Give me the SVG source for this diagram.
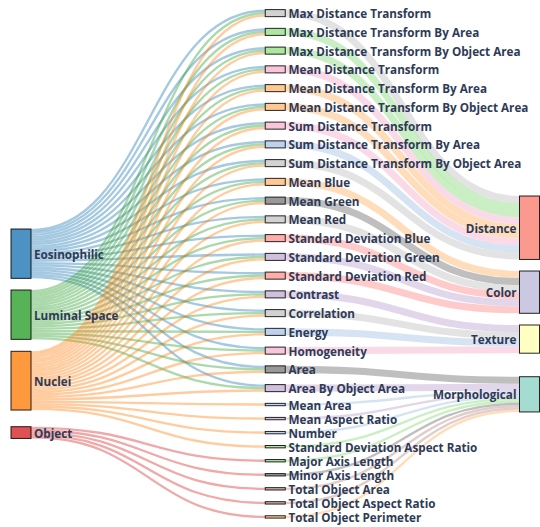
<svg xmlns="http://www.w3.org/2000/svg" width="540" height="527" viewBox="0 0 540 527">
<style>
text{font-family:"Open Sans","Noto Sans","DejaVu Sans",sans-serif;font-weight:bold;font-size:11.7px;fill:#2e3a56;dominant-baseline:central}
.r text,.rt{text-anchor:end}
rect{stroke:#000;stroke-width:1;stroke-opacity:.85;fill-opacity:.8}
#links path{fill:none}
.le path{stroke:#1f77b4;stroke-opacity:.4;stroke-width:2.35}
.ll path{stroke:#2ca02c;stroke-opacity:.4;stroke-width:2.35}
.ln path{stroke:#ff7f0e;stroke-opacity:.4;stroke-width:2.35}
.lo path{stroke:#d62728;stroke-opacity:.4;stroke-width:2.35}
.rl path{stroke-opacity:.5;stroke-width:7.05}
.rl path.t{stroke-width:2.35}
.c1{stroke:#c7c7c7;fill:#c7c7c7}.c2{stroke:#98df8a;fill:#98df8a}.c3{stroke:#f7b6d2;fill:#f7b6d2}.c4{stroke:#ffbb78;fill:#ffbb78}
.c5{stroke:#aec7e8;fill:#aec7e8}.c6{stroke:#7f7f7f;fill:#7f7f7f}.c7{stroke:#ff9896;fill:#ff9896}.c8{stroke:#c5b0d5;fill:#c5b0d5}.c9{stroke:#c49c94;fill:#c49c94}
rect.c1,rect.c2,rect.c3,rect.c4,rect.c5,rect.c6,rect.c7,rect.c8,rect.c9{stroke:#000}
</style>
<g id="links">
<g class="le">
<path d="M31,230.175C148.125,230.175 148.125,10.775 265.25,10.775"/>
<path d="M31,232.525C148.125,232.525 148.125,29.525 265.25,29.525"/>
<path d="M31,234.875C148.125,234.875 148.125,48.275 265.25,48.275"/>
<path d="M31,237.225C148.125,237.225 148.125,67.025 265.25,67.025"/>
<path d="M31,239.575C148.125,239.575 148.125,85.775 265.25,85.775"/>
<path d="M31,241.925C148.125,241.925 148.125,104.525 265.25,104.525"/>
<path d="M31,244.275C148.125,244.275 148.125,123.275 265.25,123.275"/>
<path d="M31,246.625C148.125,246.625 148.125,142.025 265.25,142.025"/>
<path d="M31,248.975C148.125,248.975 148.125,160.775 265.25,160.775"/>
<path d="M31,251.325C148.125,251.325 148.125,179.525 265.25,179.525"/>
<path d="M31,253.675C148.125,253.675 148.125,198.275 265.25,198.275"/>
<path d="M31,256.025C148.125,256.025 148.125,217.025 265.25,217.025"/>
<path d="M31,258.375C148.125,258.375 148.125,235.775 265.25,235.775"/>
<path d="M31,260.725C148.125,260.725 148.125,254.525 265.25,254.525"/>
<path d="M31,263.075C148.125,263.075 148.125,273.275 265.25,273.275"/>
<path d="M31,265.425C148.125,265.425 148.125,292.025 265.25,292.025"/>
<path d="M31,267.775C148.125,267.775 148.125,310.775 265.25,310.775"/>
<path d="M31,270.125C148.125,270.125 148.125,329.525 265.25,329.525"/>
<path d="M31,272.475C148.125,272.475 148.125,348.275 265.25,348.275"/>
<path d="M31,274.825C148.125,274.825 148.125,367.025 265.25,367.025"/>
<path d="M31,277.175C148.125,277.175 148.125,385.775 265.25,385.775"/>
</g>
<g class="ll">
<path d="M31,291.175C148.125,291.175 148.125,13.125 265.25,13.125"/>
<path d="M31,293.525C148.125,293.525 148.125,31.875 265.25,31.875"/>
<path d="M31,295.875C148.125,295.875 148.125,50.625 265.25,50.625"/>
<path d="M31,298.225C148.125,298.225 148.125,69.375 265.25,69.375"/>
<path d="M31,300.575C148.125,300.575 148.125,88.125 265.25,88.125"/>
<path d="M31,302.925C148.125,302.925 148.125,106.875 265.25,106.875"/>
<path d="M31,305.275C148.125,305.275 148.125,125.625 265.25,125.625"/>
<path d="M31,307.625C148.125,307.625 148.125,144.375 265.25,144.375"/>
<path d="M31,309.975C148.125,309.975 148.125,163.125 265.25,163.125"/>
<path d="M31,312.325C148.125,312.325 148.125,181.875 265.25,181.875"/>
<path d="M31,314.675C148.125,314.675 148.125,200.625 265.25,200.625"/>
<path d="M31,317.025C148.125,317.025 148.125,219.375 265.25,219.375"/>
<path d="M31,319.375C148.125,319.375 148.125,238.125 265.25,238.125"/>
<path d="M31,321.725C148.125,321.725 148.125,256.875 265.25,256.875"/>
<path d="M31,324.075C148.125,324.075 148.125,275.625 265.25,275.625"/>
<path d="M31,326.425C148.125,326.425 148.125,294.375 265.25,294.375"/>
<path d="M31,328.775C148.125,328.775 148.125,313.125 265.25,313.125"/>
<path d="M31,331.125C148.125,331.125 148.125,331.875 265.25,331.875"/>
<path d="M31,333.475C148.125,333.475 148.125,350.625 265.25,350.625"/>
<path d="M31,335.825C148.125,335.825 148.125,369.375 265.25,369.375"/>
<path d="M31,338.175C148.125,338.175 148.125,388.125 265.25,388.125"/>
</g>
<g class="ln">
<path d="M31,352.475C148.125,352.475 148.125,15.475 265.25,15.475"/>
<path d="M31,354.825C148.125,354.825 148.125,34.225 265.25,34.225"/>
<path d="M31,357.175C148.125,357.175 148.125,52.975 265.25,52.975"/>
<path d="M31,359.525C148.125,359.525 148.125,71.725 265.25,71.725"/>
<path d="M31,361.875C148.125,361.875 148.125,90.475 265.25,90.475"/>
<path d="M31,364.225C148.125,364.225 148.125,109.225 265.25,109.225"/>
<path d="M31,366.575C148.125,366.575 148.125,127.975 265.25,127.975"/>
<path d="M31,368.925C148.125,368.925 148.125,146.725 265.25,146.725"/>
<path d="M31,371.275C148.125,371.275 148.125,165.475 265.25,165.475"/>
<path d="M31,373.625C148.125,373.625 148.125,184.225 265.25,184.225"/>
<path d="M31,375.975C148.125,375.975 148.125,202.975 265.25,202.975"/>
<path d="M31,378.325C148.125,378.325 148.125,221.725 265.25,221.725"/>
<path d="M31,380.675C148.125,380.675 148.125,240.475 265.25,240.475"/>
<path d="M31,383.025C148.125,383.025 148.125,259.225 265.25,259.225"/>
<path d="M31,385.375C148.125,385.375 148.125,277.975 265.25,277.975"/>
<path d="M31,387.725C148.125,387.725 148.125,296.725 265.25,296.725"/>
<path d="M31,390.075C148.125,390.075 148.125,315.475 265.25,315.475"/>
<path d="M31,392.425C148.125,392.425 148.125,334.225 265.25,334.225"/>
<path d="M31,394.775C148.125,394.775 148.125,352.975 265.25,352.975"/>
<path d="M31,397.125C148.125,397.125 148.125,371.725 265.25,371.725"/>
<path d="M31,399.475C148.125,399.475 148.125,390.475 265.25,390.475"/>
<path d="M31,401.825C148.125,401.825 148.125,404.525 265.25,404.525"/>
<path d="M31,404.175C148.125,404.175 148.125,418.575 265.25,418.575"/>
<path d="M31,406.525C148.125,406.525 148.125,432.625 265.25,432.625"/>
<path d="M31,408.875C148.125,408.875 148.125,446.675 265.25,446.675"/>
</g>
<g class="lo">
<path d="M31,427.875C148.125,427.875 148.125,460.725 265.25,460.725"/>
<path d="M31,430.225C148.125,430.225 148.125,474.775 265.25,474.775"/>
<path d="M31,432.575C148.125,432.575 148.125,488.825 265.25,488.825"/>
<path d="M31,434.925C148.125,434.925 148.125,502.875 265.25,502.875"/>
<path d="M31,437.275C148.125,437.275 148.125,516.925 265.25,516.925"/>
</g>
<g class="rl">
<path class="c1" d="M285.25,13.125C402.375,13.125 402.375,199.525 519.5,199.525"/>
<path class="c2" d="M285.25,31.875C402.375,31.875 402.375,206.575 519.5,206.575"/>
<path class="c2" d="M285.25,50.625C402.375,50.625 402.375,213.625 519.5,213.625"/>
<path class="c3" d="M285.25,69.375C402.375,69.375 402.375,220.675 519.5,220.675"/>
<path class="c4" d="M285.25,88.125C402.375,88.125 402.375,227.725 519.5,227.725"/>
<path class="c4" d="M285.25,106.875C402.375,106.875 402.375,234.775 519.5,234.775"/>
<path class="c3" d="M285.25,125.625C402.375,125.625 402.375,241.825 519.5,241.825"/>
<path class="c5" d="M285.25,144.375C402.375,144.375 402.375,248.875 519.5,248.875"/>
<path class="c1" d="M285.25,163.125C402.375,163.125 402.375,255.925 519.5,255.925"/>
<path class="c4" d="M285.25,181.875C402.375,181.875 402.375,274.525 519.5,274.525"/>
<path class="c6" d="M285.25,200.625C402.375,200.625 402.375,281.575 519.5,281.575"/>
<path class="c1" d="M285.25,219.375C402.375,219.375 402.375,288.625 519.5,288.625"/>
<path class="c7" d="M285.25,238.125C402.375,238.125 402.375,295.675 519.5,295.675"/>
<path class="c8" d="M285.25,256.875C402.375,256.875 402.375,302.725 519.5,302.725"/>
<path class="c7" d="M285.25,275.625C402.375,275.625 402.375,309.775 519.5,309.775"/>
<path class="c8" d="M285.25,294.375C402.375,294.375 402.375,328.525 519.5,328.525"/>
<path class="c1" d="M285.25,313.125C402.375,313.125 402.375,335.575 519.5,335.575"/>
<path class="c5" d="M285.25,331.875C402.375,331.875 402.375,342.625 519.5,342.625"/>
<path class="c3" d="M285.25,350.625C402.375,350.625 402.375,349.675 519.5,349.675"/>
<path class="c6" d="M285.25,369.375C402.375,369.375 402.375,380.225 519.5,380.225"/>
<path class="c8" d="M285.25,388.125C402.375,388.125 402.375,387.275 519.5,387.275"/>
<path class="c5 t" d="M285.25,404.525C402.375,404.525 402.375,391.975 519.5,391.975"/>
<path class="c8 t" d="M285.25,418.575C402.375,418.575 402.375,394.325 519.5,394.325"/>
<path class="c5 t" d="M285.25,432.625C402.375,432.625 402.375,396.675 519.5,396.675"/>
<path class="c2 t" d="M285.25,446.675C402.375,446.675 402.375,399.025 519.5,399.025"/>
<path class="c2 t" d="M285.25,460.725C402.375,460.725 402.375,401.375 519.5,401.375"/>
<path class="c6 t" d="M285.25,474.775C402.375,474.775 402.375,403.725 519.5,403.725"/>
<path class="c9 t" d="M285.25,488.825C402.375,488.825 402.375,406.075 519.5,406.075"/>
<path class="c9 t" d="M285.25,502.875C402.375,502.875 402.375,408.425 519.5,408.425"/>
<path class="c4 t" d="M285.25,516.925C402.375,516.925 402.375,410.775 519.5,410.775"/>
</g>
</g>
<g id="left-nodes">
<g id="n-eosinophilic"><rect x="11" y="229" width="20" height="49.35" fill="#1f77b4"/><text x="34" y="253.7">Eosinophilic</text></g>
<g id="n-luminal-space"><rect x="11" y="290" width="20" height="49.35" fill="#2ca02c"/><text x="34" y="314.7">Luminal Space</text></g>
<g id="n-nuclei"><rect x="11" y="351.3" width="20" height="58.75" fill="#ff7f0e"/><text x="34" y="380.7">Nuclei</text></g>
<g id="n-object"><rect x="11" y="426.7" width="20" height="11.75" fill="#d62728"/><text x="34" y="432.6">Object</text></g>
</g>
<g id="middle-nodes">
<g id="m1"><rect class="c1" x="265.25" y="9.6" width="20" height="7.05"/><text x="288.5" y="13.125">Max Distance Transform</text></g>
<g id="m2"><rect class="c2" x="265.25" y="28.35" width="20" height="7.05"/><text x="288.5" y="31.875">Max Distance Transform By Area</text></g>
<g id="m3"><rect class="c2" x="265.25" y="47.1" width="20" height="7.05"/><text x="288.5" y="50.625">Max Distance Transform By Object Area</text></g>
<g id="m4"><rect class="c3" x="265.25" y="65.85" width="20" height="7.05"/><text x="288.5" y="69.375">Mean Distance Transform</text></g>
<g id="m5"><rect class="c4" x="265.25" y="84.6" width="20" height="7.05"/><text x="288.5" y="88.125">Mean Distance Transform By Area</text></g>
<g id="m6"><rect class="c4" x="265.25" y="103.35" width="20" height="7.05"/><text x="288.5" y="106.875">Mean Distance Transform By Object Area</text></g>
<g id="m7"><rect class="c3" x="265.25" y="122.1" width="20" height="7.05"/><text x="288.5" y="125.625">Sum Distance Transform</text></g>
<g id="m8"><rect class="c5" x="265.25" y="140.85" width="20" height="7.05"/><text x="288.5" y="144.375">Sum Distance Transform By Area</text></g>
<g id="m9"><rect class="c1" x="265.25" y="159.6" width="20" height="7.05"/><text x="288.5" y="163.125">Sum Distance Transform By Object Area</text></g>
<g id="m10"><rect class="c4" x="265.25" y="178.35" width="20" height="7.05"/><text x="288.5" y="181.875">Mean Blue</text></g>
<g id="m11"><rect class="c6" x="265.25" y="197.1" width="20" height="7.05"/><text x="288.5" y="200.625">Mean Green</text></g>
<g id="m12"><rect class="c1" x="265.25" y="215.85" width="20" height="7.05"/><text x="288.5" y="219.375">Mean Red</text></g>
<g id="m13"><rect class="c7" x="265.25" y="234.6" width="20" height="7.05"/><text x="288.5" y="238.125">Standard Deviation Blue</text></g>
<g id="m14"><rect class="c8" x="265.25" y="253.35" width="20" height="7.05"/><text x="288.5" y="256.875">Standard Deviation Green</text></g>
<g id="m15"><rect class="c7" x="265.25" y="272.1" width="20" height="7.05"/><text x="288.5" y="275.625">Standard Deviation Red</text></g>
<g id="m16"><rect class="c8" x="265.25" y="290.85" width="20" height="7.05"/><text x="288.5" y="294.375">Contrast</text></g>
<g id="m17"><rect class="c1" x="265.25" y="309.6" width="20" height="7.05"/><text x="288.5" y="313.125">Correlation</text></g>
<g id="m18"><rect class="c5" x="265.25" y="328.35" width="20" height="7.05"/><text x="288.5" y="331.875">Energy</text></g>
<g id="m19"><rect class="c3" x="265.25" y="347.1" width="20" height="7.05"/><text x="288.5" y="350.625">Homogeneity</text></g>
<g id="m20"><rect class="c6" x="265.25" y="365.85" width="20" height="7.05"/><text x="288.5" y="369.375">Area</text></g>
<g id="m21"><rect class="c8" x="265.25" y="384.6" width="20" height="7.05"/><text x="288.5" y="388.125">Area By Object Area</text></g>
<g id="m22"><rect class="c5" x="265.25" y="403.35" width="20" height="2.35"/><text x="288.5" y="404.525">Mean Area</text></g>
<g id="m23"><rect class="c8" x="265.25" y="417.4" width="20" height="2.35"/><text x="288.5" y="418.575">Mean Aspect Ratio</text></g>
<g id="m24"><rect class="c5" x="265.25" y="431.45" width="20" height="2.35"/><text x="288.5" y="432.625">Number</text></g>
<g id="m25"><rect class="c2" x="265.25" y="445.5" width="20" height="2.35"/><text x="288.5" y="446.675">Standard Deviation Aspect Ratio</text></g>
<g id="m26"><rect class="c2" x="265.25" y="459.55" width="20" height="2.35"/><text x="288.5" y="460.725">Major Axis Length</text></g>
<g id="m27"><rect class="c6" x="265.25" y="473.6" width="20" height="2.35"/><text x="288.5" y="474.775">Minor Axis Length</text></g>
<g id="m28"><rect class="c9" x="265.25" y="487.65" width="20" height="2.35"/><text x="288.5" y="488.825">Total Object Area</text></g>
<g id="m29"><rect class="c9" x="265.25" y="501.7" width="20" height="2.35"/><text x="288.5" y="502.875">Total Object Aspect Ratio</text></g>
<g id="m30"><rect class="c4" x="265.25" y="515.75" width="20" height="2.35"/><text x="288.5" y="516.925">Total Object Perimeter</text></g>
</g>
<g id="right-nodes" class="r">
<g id="n-distance"><rect x="519.5" y="196" width="20" height="63.45" fill="#fb8072"/><text x="516.5" y="227.7">Distance</text></g>
<g id="n-color"><rect x="519.5" y="271" width="20" height="42.3" fill="#bebada"/><text x="516.5" y="292.2">Color</text></g>
<g id="n-texture"><rect x="519.5" y="325" width="20" height="28.2" fill="#ffffb3"/><text x="516.5" y="339.1">Texture</text></g>
<g id="n-morphological"><rect x="519.5" y="376.7" width="20" height="35.25" fill="#8dd3c7"/><text x="516.5" y="394.3">Morphological</text></g>
</g>
</svg>
